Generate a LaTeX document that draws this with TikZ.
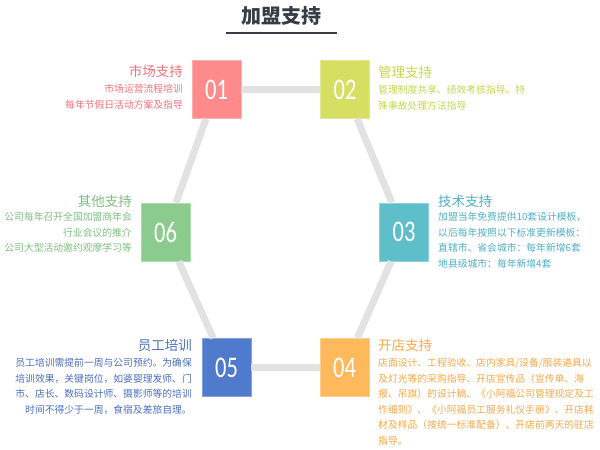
\documentclass[tikz,border=0pt]{standalone}
\usepackage{fontspec}
\setmainfont{Noto Sans CJK SC}
\newfontfamily\numfont[FakeStretch=0.75]{Carlito}
\usepackage{tikz}
\usetikzlibrary{calc}

% box and text colours
\definecolor{titlegray}{HTML}{363D47}
\definecolor{linegray}{HTML}{E2E2E2}
\definecolor{boxA}{HTML}{FE8B8B}\definecolor{txtA}{HTML}{F2717A}
\definecolor{boxB}{HTML}{D6DF62}\definecolor{txtB}{HTML}{C2D74C}
\definecolor{boxC}{HTML}{5EBFCB}\definecolor{txtC}{HTML}{4FAFC3}
\definecolor{boxD}{HTML}{FDB95C}\definecolor{txtD}{HTML}{F7A748}
\definecolor{boxE}{HTML}{507ACB}\definecolor{txtE}{HTML}{4B6EC0}
\definecolor{boxF}{HTML}{8CCB8E}\definecolor{txtF}{HTML}{7CBF7E}

\begin{document}
\begin{tikzpicture}[x=1pt,y=-1pt,
  numbox/.style={minimum width=49pt,minimum height=58pt,inner sep=0pt,
    draw=#1!70!white,line width=0.8pt,fill=#1,text=white,
    font=\numfont\fontsize{30}{30}\selectfont},
  headtext/.style={inner sep=0pt,text=#1,font=\fontsize{13.5}{16}\selectfont},
  bodytext/.style={inner sep=0pt,text=#1,font=\fontsize{9.8}{15.6}\selectfont},
  hexline/.style={linegray,line width=7pt}]
  \useasboundingbox (0,0) rectangle (600,450);

  % Title
  \node[text=titlegray,font=\fontsize{20}{24}\selectfont\bfseries] (title) at (281,16) {加盟支持};
  \draw[titlegray,line width=1.4pt] (226,33) -- (337,33);

  % Numbered boxes
  \node[numbox=boxA] (b01) at (216.5,89.5) {01};
  \node[numbox=boxB] (b02) at (345,89.5) {02};
  \node[numbox=boxC] (b03) at (404,232) {03};
  \node[numbox=boxD] (b04) at (344.5,367.5) {04};
  \node[numbox=boxE] (b05) at (226.5,367.5) {05};
  \node[numbox=boxF] (b06) at (165.5,232) {06};

  % Hexagon between the boxes
  \draw[hexline] (b01) -- (b02);
  \draw[hexline] (b02) -- (b03);
  \draw[hexline] (b03) -- (b04);
  \draw[hexline] (b04) -- (b05);
  \draw[hexline] (b05) -- (b06);
  \draw[hexline] (b06) -- (b01);

  % 01 market
  \node[headtext=txtA,anchor=east] (h01) at (183,71) {市场支持};
  \node[bodytext=txtA,anchor=north east,align=right] (t01) at (183,84)
    {市场运营流程培训\\每年节假日活动方案及指导};

  % 02 management
  \node[headtext=txtB,anchor=west] (h02) at (378,72) {管理支持};
  \node[bodytext=txtB,anchor=north west,align=left] (t02) at (378,85)
    {管理制度共享、绩效考核指导。特\\殊事故处理方法指导};

  % 03 technology
  \node[headtext=txtC,anchor=west] (h03) at (438,201) {技术支持};
  \node[bodytext=txtC,anchor=north west,align=left] (t03) at (438,212)
    {加盟当年免费提供10套设计模板，\\以后每年按照以下标准更新模板：\\直辖市、省会城市：每年新增6套\\地县级城市：每年新增4套};

  % 04 shop opening
  \node[headtext=txtD,anchor=west] (h04) at (378,345) {开店支持};
  \node[bodytext=txtD,anchor=north west,align=left] (t04) at (378,358)
    {店面设计、工程验收、店内家具/设备/服装道具以\\及灯光等的采购指导、开店宣传品（宣传单、海\\报、吊旗）的设计稿、《小阿福公司管理规定及工\\作细则》、《小阿福员工服务礼仪手册》、开店耗\\材及样品（按统一标准配备）、开店前两天的驻店\\指导。};

  % 05 staff training
  \node[headtext=txtE,anchor=east] (h05) at (192,345) {员工培训};
  \node[bodytext=txtE,anchor=north east,align=right] (t05) at (192,358)
    {员工培训需提前一周与公司预约。为确保\\培训效果，关键岗位，如婆婴理发师、门\\市、店长、数码设计师、摄影师等的培训\\时间不得少于一周，食宿及差旅自理。};

  % 06 other
  \node[headtext=txtF,anchor=east] (h06) at (132,201) {其他支持};
  \node[bodytext=txtF,anchor=north east,align=right] (t06) at (132,212)
    {公司每年召开全国加盟商年会\\行业会议的推介\\公司大型活动邀约观摩学习等};
\end{tikzpicture}
\end{document}
